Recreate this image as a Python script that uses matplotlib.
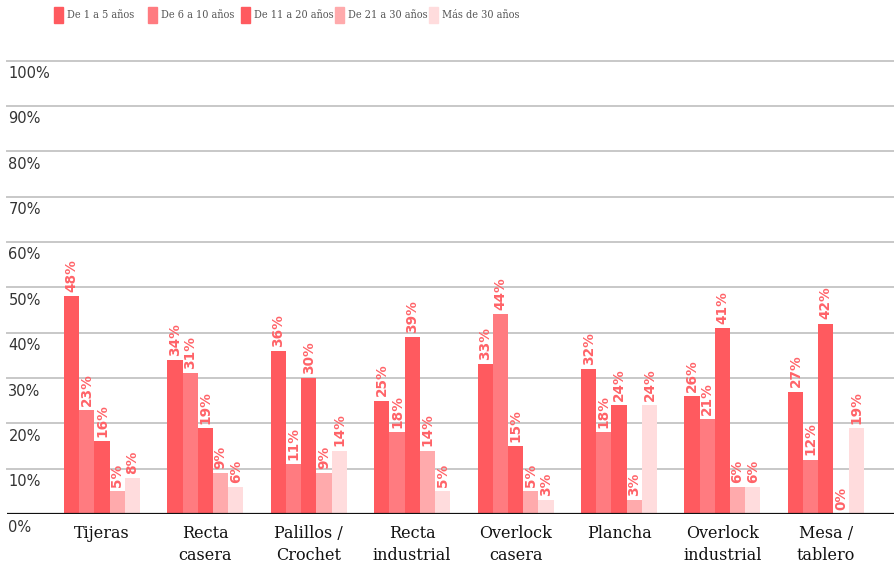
import matplotlib
matplotlib.use("Agg")
import matplotlib.pyplot as plt
import numpy as np

categories = ["Tijeras", "Recta\ncasera", "Palillos /\nCrochet", "Recta\nindustrial",
              "Overlock\ncasera", "Plancha", "Overlock\nindustrial", "Mesa /\ntablero"]
series_names = ["De 1 a 5 años", "De 6 a 10 años", "De 11 a 20 años",
                "De 21 a 30 años", "Más de 30 años"]
values = [
    [48, 34, 36, 25, 33, 32, 26, 27],
    [23, 31, 11, 18, 44, 18, 21, 12],
    [16, 19, 30, 39, 15, 24, 41, 42],
    [5, 9, 9, 14, 5, 3, 6, 0],
    [8, 6, 14, 5, 3, 24, 6, 19],
]
colors = ["#ff5a5f", "#ff7b80", "#ff5a5f", "#ffaaac", "#ffdcdd"]
yticks = [0, 10, 20, 30, 40, 50, 60, 70, 80, 90, 100]
ytick_labels = [f"{v}%" for v in yticks]

W, H = 894, 565
fig = plt.figure(figsize=(W / 100, H / 100), dpi=100)
x0, x1 = 7, 894
ytop, ybot = 60.5, 514
ax = fig.add_axes([x0 / W, (H - ybot) / H, (x1 - x0) / W, (ybot - ytop) / H])

step = 103.4
c0 = 102
ax.set_xlim((x0 - c0) / step, (x1 - c0) / step)
ax.set_ylim(0, 100)
for s in ax.spines.values():
    s.set_visible(False)
ax.set_xticks([])
ax.set_yticks([])

for v in yticks[1:]:
    ax.axhline(v, color="#c8c8c8", lw=1.4, zorder=0, clip_on=False)
ax.axhline(0, color="#111111", lw=1.6, zorder=3)

bw = 0.147
x = np.arange(len(categories))
for j, (name, vals, col) in enumerate(zip(series_names, values, colors)):
    xs = x + (j - 2) * bw
    ax.bar(xs, vals, width=bw, color=col, zorder=2, label=name, linewidth=0)
    for xi, v in zip(xs, vals):
        ax.annotate(f"{v}%", (xi, v), xytext=(0, 3), textcoords="offset points",
                    rotation=90, ha="center", va="bottom", color="#ff6368",
                    fontsize=9.8, fontweight="heavy", family="DejaVu Sans")

for v, lab in zip(yticks, ytick_labels):
    ax.annotate(lab, (0, v), xycoords=("axes fraction", "data"), xytext=(1, -4),
                textcoords="offset points", ha="left", va="top",
                fontsize=10.5, color="#333333", family="DejaVu Sans")

for xi, c in zip(x, categories):
    ax.annotate(c, (xi, 0), xytext=(0, -8), textcoords="offset points",
                ha="center", va="top", fontsize=11.5, color="#111111",
                family="DejaVu Serif", linespacing=1.35)

leg_x = [54, 148, 241, 335, 429]
for lx, name, col in zip(leg_x, series_names, colors):
    fig.patches.append(plt.Rectangle((lx / W, (H - 22.5) / H), 9 / W, 15 / H,
                                     transform=fig.transFigure, color=col, figure=fig))
    fig.text((lx + 13) / W, (H - 15.5) / H, name, ha="left", va="center",
             fontsize=7.8, color="#555555", family="DejaVu Serif",
             fontstretch="condensed")

fig.savefig("out.png", dpi=100)
